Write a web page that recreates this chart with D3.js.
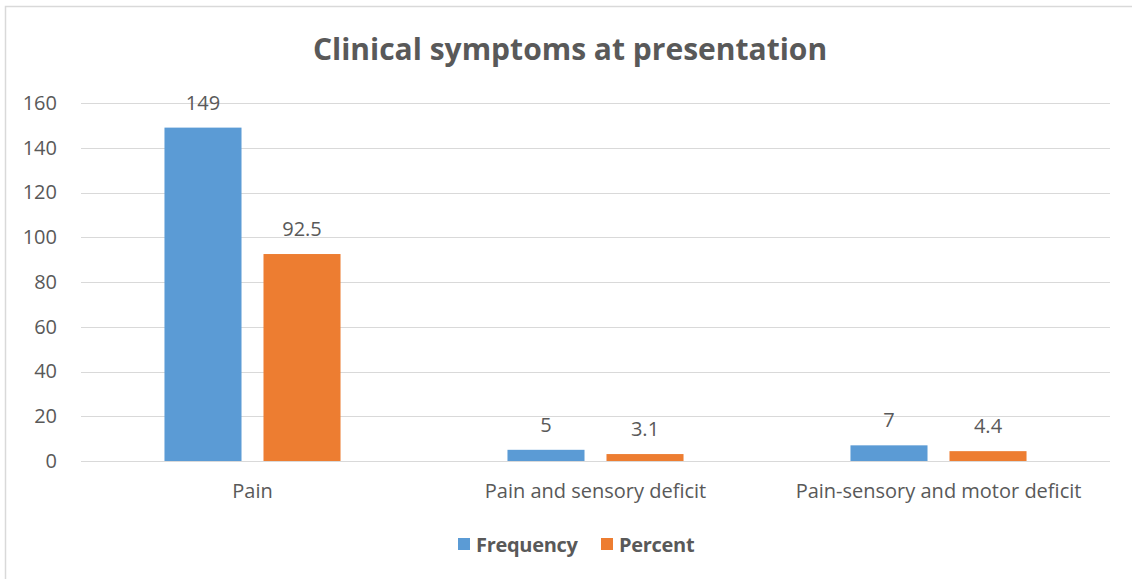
<!DOCTYPE html>
<html>
<head>
<meta charset="utf-8">
<script src="https://cdn.jsdelivr.net/npm/d3@7"></script>
<style>
  body { margin: 0; background: #fff; }
  text { font-family: "Open Sans", "Noto Sans", sans-serif; fill: #595959; }
</style>
</head>
<body>
<svg id="chart" width="1132" height="579"></svg>
<script>
const categories = ["Pain", "Pain and sensory deficit", "Pain-sensory and motor deficit"];
const seriesNames = ["Frequency", "Percent"];
const frequency = [149, 5, 7];
const percent = [92.5, 3.1, 4.4];
const yTicks = [0, 20, 40, 60, 80, 100, 120, 140, 160];
const colors = ["#5b9bd5", "#ed7d31"];

const svg = d3.select("#chart");
const width = 1132, height = 579;
const margin = { left: 81, right: 22, top: 103, bottom: 118 };

// chart frame
svg.append("path")
    .attr("d", `M5.5,${height}V6.5H${width}`)
    .attr("fill", "none")
    .attr("stroke", "#d9d9d9")
    .attr("stroke-width", 1.5);

svg.append("text")
    .attr("x", 570)
    .attr("y", 60)
    .attr("text-anchor", "middle")
    .attr("font-size", 30)
    .attr("font-weight", "bold")
    .text("Clinical symptoms at presentation");

const x = d3.scaleBand()
    .domain(categories)
    .range([margin.left, width - margin.right])
    .paddingInner(0)
    .paddingOuter(0);

const x1 = d3.scaleBand()
    .domain(seriesNames)
    .range([0, x.bandwidth()])
    .paddingInner(0.222)
    .paddingOuter(0.843);

const y = d3.scaleLinear()
    .domain([0, 160])
    .range([height - margin.bottom, margin.top]);

// gridlines
svg.append("g")
    .selectAll("line")
    .data(yTicks)
    .enter().append("line")
    .attr("x1", margin.left)
    .attr("x2", width - margin.right)
    .attr("y1", d => Math.round(y(d)) + 0.5)
    .attr("y2", d => Math.round(y(d)) + 0.5)
    .attr("stroke", "#d9d9d9")
    .attr("stroke-width", 1);

// y axis labels
const yAxis = d3.axisLeft(y).tickValues(yTicks).tickSize(0).tickPadding(24);
const yg = svg.append("g")
    .attr("transform", `translate(${margin.left},0)`)
    .call(yAxis);
yg.select(".domain").remove();
yg.selectAll("text")
    .attr("font-size", 20)
    .attr("fill", "#595959")
    .style("font-family", "'Open Sans', sans-serif");

// x axis labels
const xAxis = d3.axisBottom(x).tickSize(0).tickPadding(23);
const xg = svg.append("g")
    .attr("transform", `translate(0,${y(0)})`)
    .call(xAxis);
xg.select(".domain").remove();
xg.selectAll("text")
    .attr("font-size", 20)
    .attr("fill", "#595959")
    .style("font-family", "'Open Sans', sans-serif");

const rows = categories.map((c, i) => ({
    category: c,
    values: [
        { series: seriesNames[0], value: frequency[i], color: colors[0] },
        { series: seriesNames[1], value: percent[i], color: colors[1] }
    ]
}));

const groups = svg.append("g")
    .selectAll("g")
    .data(rows)
    .enter().append("g")
    .attr("transform", d => `translate(${x(d.category)},0)`);

groups.selectAll("rect")
    .data(d => d.values)
    .enter().append("rect")
    .attr("x", d => x1(d.series))
    .attr("width", x1.bandwidth())
    .attr("y", d => y(d.value))
    .attr("height", d => y(0) - y(d.value))
    .attr("fill", d => d.color);

groups.selectAll(".value-label")
    .data(d => d.values)
    .enter().append("text")
    .attr("class", "value-label")
    .attr("x", d => x1(d.series) + x1.bandwidth() / 2)
    .attr("y", d => y(d.value) - 18)
    .attr("text-anchor", "middle")
    .attr("font-size", 20)
    .text(d => d.value);

// legend
const legend = svg.append("g").attr("transform", "translate(458,545)");
const legendX = [0, 143];
seriesNames.forEach((name, i) => {
    const item = legend.append("g").attr("transform", `translate(${legendX[i]},0)`);
    item.append("rect")
        .attr("x", 0)
        .attr("y", -7)
        .attr("width", 12)
        .attr("height", 12)
        .attr("fill", colors[i]);
    item.append("text")
        .attr("x", 18)
        .attr("y", 7)
        .attr("font-size", 20)
        .attr("font-weight", "bold")
        .attr("letter-spacing", -0.3)
        .text(name);
});
</script>
</body>
</html>
